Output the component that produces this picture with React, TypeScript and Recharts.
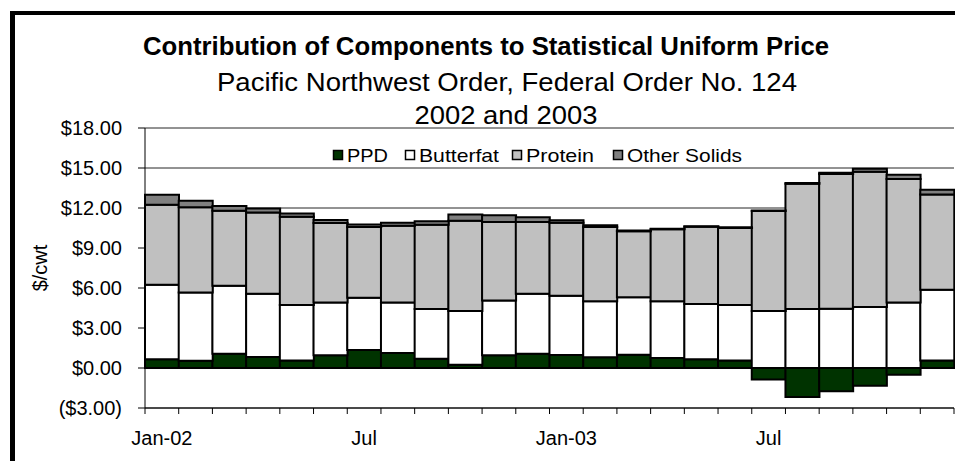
import { Bar, BarChart, CartesianGrid, Legend, ReferenceLine, XAxis, YAxis } from 'recharts'

const MONTHS = [
  'Jan-02', 'Feb-02', 'Mar-02', 'Apr-02', 'May-02', 'Jun-02',
  'Jul-02', 'Aug-02', 'Sep-02', 'Oct-02', 'Nov-02', 'Dec-02',
  'Jan-03', 'Feb-03', 'Mar-03', 'Apr-03', 'May-03', 'Jun-03',
  'Jul-03', 'Aug-03', 'Sep-03', 'Oct-03', 'Nov-03', 'Dec-03',
]
const MONTH_LABELS = [
  'Jan-02', '', '', '', '', '', 'Jul', '', '', '', '', '',
  'Jan-03', '', '', '', '', '', 'Jul', '', '', '', '', '',
]

// $/cwt
const PPD = [0.65, 0.55, 1.07, 0.82, 0.57, 0.95, 1.35, 1.12, 0.7, 0.25, 0.95, 1.07, 0.97, 0.8, 1.0, 0.75, 0.65, 0.57, -0.87, -2.18, -1.75, -1.33, -0.5, 0.57]
const BUTTERFAT = [5.6, 5.12, 5.1, 4.75, 4.15, 3.97, 3.92, 3.8, 3.72, 4.02, 4.12, 4.5, 4.45, 4.2, 4.3, 4.25, 4.15, 4.15, 4.27, 4.42, 4.45, 4.57, 4.92, 5.3]
const PROTEIN = [6.0, 6.38, 5.63, 6.1, 6.63, 5.96, 5.31, 5.75, 6.33, 6.78, 5.88, 5.38, 5.48, 5.57, 4.95, 5.4, 5.8, 5.78, 7.5, 9.4, 10.1, 10.15, 9.25, 7.15]
const OTHER_SOLIDS = [0.75, 0.5, 0.35, 0.3, 0.23, 0.22, 0.19, 0.23, 0.25, 0.47, 0.5, 0.35, 0.18, 0.13, 0.07, 0.05, 0.03, 0.05, 0.05, 0.05, 0.1, 0.22, 0.33, 0.35]

const Y_TICKS = [-3, 0, 3, 6, 9, 12, 15, 18]

const SERIES = [
  { key: 'ppd', name: 'PPD', fill: '#003300' },
  { key: 'butterfat', name: 'Butterfat', fill: '#ffffff' },
  { key: 'protein', name: 'Protein', fill: '#c0c0c0' },
  { key: 'other', name: 'Other Solids', fill: '#808080' },
]

const data = MONTHS.map((m, i) => ({
  month: m,
  ppd: PPD[i],
  butterfat: BUTTERFAT[i],
  protein: PROTEIN[i],
  other: OTHER_SOLIDS[i],
}))

const FONT = '"Liberation Sans", Arial, sans-serif'
const PLOT_LEFT = 145
const PLOT_RIGHT = 954
const BAND = (PLOT_RIGHT - PLOT_LEFT) / MONTHS.length

const money = (v: number) => (v < 0 ? `($${Math.abs(v).toFixed(2)})` : `$${v.toFixed(2)}`)

function MonthTick({ x, y, index }: any) {
  const label = MONTH_LABELS[index] ?? ''
  const last = index === MONTHS.length - 1
  return (
    <g>
      <line x1={x - BAND / 2} x2={x - BAND / 2} y1={y} y2={y + 6} stroke="#000" />
      {last && <line x1={x + BAND / 2} x2={x + BAND / 2} y1={y} y2={y + 6} stroke="#000" />}
      {label && (
        <text x={x} y={y + 30} textAnchor="middle" dominantBaseline="central" fontSize={20} fontFamily={FONT} fill="#000">
          {label}
        </text>
      )}
    </g>
  )
}

function YLabel({ viewBox }: any) {
  const cy = viewBox.y + viewBox.height / 2
  return (
    <text x={40} y={cy} transform={`rotate(-90 40 ${cy})`} textAnchor="middle" dominantBaseline="central" fontSize={20} fontFamily={FONT} fill="#000">
      $/cwt
    </text>
  )
}

const LEGEND_POS = [
  { sw: 333, len: 41 },
  { sw: 405, len: 80 },
  { sw: 512, len: 68 },
  { sw: 613, len: 115 },
]

function ChartLegend() {
  return (
    <svg width={955} height={24} style={{ display: 'block' }}>
      {SERIES.map((s, i) => (
        <g key={s.key}>
          <rect x={LEGEND_POS[i].sw + 0.5} y={6.5} width={9} height={9} fill={s.fill} stroke="#000" strokeWidth={1.5} />
          <text x={LEGEND_POS[i].sw + 14} y={11} dominantBaseline="central" fontSize={19} fontFamily={FONT} textLength={LEGEND_POS[i].len} lengthAdjust="spacingAndGlyphs" fill="#000">
            {s.name}
          </text>
        </g>
      ))}
    </svg>
  )
}

export default function App() {
  return (
    <div style={{ position: 'absolute', left: 0, top: 0, width: 955, height: 461, overflow: 'hidden', background: '#fff' }}>
      <div style={{ position: 'absolute', left: 10, top: 11, width: 1100, height: 600, borderLeft: '5px solid #000', borderTop: '4px solid #000' }} />
      <svg width={955} height={130} style={{ position: 'absolute', left: 0, top: 0 }}>
        <text x={486} y={46} textAnchor="middle" dominantBaseline="central" fontSize={26} fontWeight="bold" fontFamily={FONT} textLength={686} lengthAdjust="spacingAndGlyphs">
          Contribution of Components to Statistical Uniform Price
        </text>
        <text x={507} y={82} textAnchor="middle" dominantBaseline="central" fontSize={26} fontFamily={FONT} textLength={580} lengthAdjust="spacingAndGlyphs">
          Pacific Northwest Order, Federal Order No. 124
        </text>
        <text x={506} y={115} textAnchor="middle" dominantBaseline="central" fontSize={26} fontFamily={FONT} textLength={183} lengthAdjust="spacingAndGlyphs">
          2002 and 2003
        </text>
      </svg>
      <div style={{ position: 'absolute', left: 0, top: 0 }}>
        <BarChart
          width={955}
          height={461}
          data={data}
          stackOffset="sign"
          barCategoryGap={0}
          margin={{ top: 128, right: 1, bottom: 13, left: 0 }}
        >
          <CartesianGrid horizontal vertical={false} stroke="#000" strokeOpacity={0.85} />
          <XAxis
            dataKey="month"
            interval={0}
            height={40}
            tickSize={0}
            tickMargin={0}
            tickLine={false}
            axisLine={{ stroke: '#000' }}
            tick={<MonthTick />}
          />
          <YAxis
            width={145}
            domain={[-3, 18]}
            ticks={Y_TICKS}
            interval={0}
            tickFormatter={money}
            tickSize={7}
            tickMargin={16}
            axisLine={{ stroke: '#000' }}
            tickLine={{ stroke: '#000' }}
            tick={{ fill: '#000', fontSize: 20, fontFamily: FONT }}
            label={<YLabel />}
          />
          <Legend
            layout="vertical"
            align="center"
            verticalAlign="middle"
            wrapperStyle={{ top: 144, left: 0, width: 955 }}
            content={<ChartLegend />}
          />
          {SERIES.map((s) => (
            <Bar key={s.key} dataKey={s.key} name={s.name} stackId="a" fill={s.fill} stroke="#000" strokeWidth={2} isAnimationActive={false} />
          ))}
          <ReferenceLine x={MONTHS[MONTHS.length - 1]} position="end" stroke="#c0c0c0" />
        </BarChart>
      </div>
    </div>
  )
}
